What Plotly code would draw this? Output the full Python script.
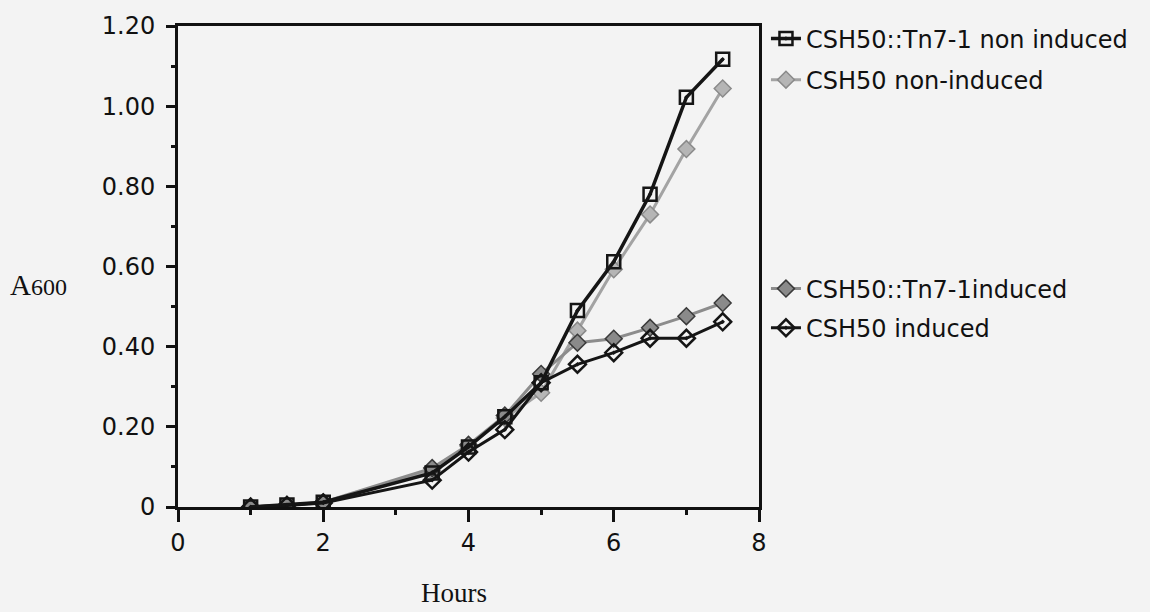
import plotly.graph_objects as go

hours = [1, 1.5, 2, 3.5, 4, 4.5, 5, 5.5, 6, 6.5, 7, 7.5]
tn7_non_induced = [0.0, 0.005, 0.012, 0.085, 0.15, 0.225, 0.31, 0.49, 0.612, 0.78, 1.022, 1.117]
csh50_non_induced = [0.0, 0.005, 0.010, 0.090, 0.152, 0.222, 0.285, 0.44, 0.593, 0.73, 0.893, 1.044]
tn7_induced = [0.0, 0.005, 0.012, 0.097, 0.155, 0.228, 0.332, 0.41, 0.42, 0.447, 0.476, 0.509]
csh50_induced = [0.0, 0.004, 0.010, 0.067, 0.137, 0.193, 0.31, 0.356, 0.385, 0.421, 0.421, 0.462]

names = ["CSH50::Tn7-1 non induced", "CSH50 non-induced", "CSH50::Tn7-1induced", "CSH50 induced"]
y_ticks = [0, 0.2, 0.4, 0.6, 0.8, 1.0, 1.2]
y_ticktext = ["0", "0.20", "0.40", "0.60", "0.80", "1.00", "1.20"]
x_ticks = [0, 2, 4, 6, 8]

BG = "#f3f3f3"
SANS = "DejaVu Sans"
SERIF = "Liberation Serif"
FS = 24

fig = go.Figure()

# gray series first so black lines sit on top
fig.add_trace(go.Scatter(
    x=hours, y=csh50_non_induced, name=names[1], mode="lines+markers",
    line=dict(color="#a3a3a3", width=3),
    marker=dict(symbol="diamond", size=13, color="#b5b5b5", line=dict(color="#8a8a8a", width=1.5)),
    legend="legend", legendrank=2, legendgroup="g2"))
fig.add_trace(go.Scatter(
    x=hours, y=tn7_induced, name=names[2], mode="lines+markers",
    line=dict(color="#8c8c8c", width=3),
    marker=dict(symbol="diamond", size=13, color="#8a8a8a", line=dict(color="#3a3a3a", width=1.5)),
    legend="legend2", legendrank=1, legendgroup="g3"))
fig.add_trace(go.Scatter(
    x=hours, y=csh50_induced, name=names[3], mode="lines+markers",
    line=dict(color="#151515", width=3),
    marker=dict(symbol="diamond-open-dot", size=13, color="#151515", line=dict(color="#151515", width=2.5)),
    legend="legend2", legendrank=2, legendgroup="g4"))
fig.add_trace(go.Scatter(
    x=hours, y=tn7_non_induced, name=names[0], mode="lines+markers",
    line=dict(color="#151515", width=3.5),
    marker=dict(symbol="square-open-dot", size=13, color="#151515", line=dict(color="#151515", width=2.5)),
    legend="legend", legendrank=1, legendgroup="g1"))

fig.update_layout(
    width=1150, height=612,
    margin=dict(l=178, r=391, t=23, b=105),
    paper_bgcolor=BG, plot_bgcolor=BG,
    font=dict(family=SANS, size=FS, color="#111"),
    showlegend=True,
    legend=dict(x=1.012, y=1.02, xanchor="left", yanchor="top", bgcolor="rgba(0,0,0,0)",
                font=dict(family=SANS, size=FS, color="#111"), tracegroupgap=7,
                traceorder="grouped", itemwidth=30),
    legend2=dict(x=1.012, y=0.5, xanchor="left", yanchor="top", bgcolor="rgba(0,0,0,0)",
                 font=dict(family=SANS, size=FS, color="#111"), tracegroupgap=5,
                 traceorder="grouped", itemwidth=30),
    xaxis=dict(range=[0, 8], tickvals=x_ticks, ticks="outside", ticklen=12, tickwidth=3,
               tickcolor="#111", showline=True, linewidth=3, linecolor="#111", mirror=True,
               showgrid=False, zeroline=False, tickfont=dict(family=SANS, size=FS, color="#111"),
               minor=dict(dtick=1, ticks="outside", ticklen=5, tickwidth=3, tickcolor="#111", showgrid=False)),
    yaxis=dict(range=[0, 1.2], tickvals=y_ticks, ticktext=y_ticktext, ticks="outside", ticklen=9,
               tickwidth=3, tickcolor="#111", showline=True, linewidth=3, linecolor="#111", mirror=True,
               showgrid=False, zeroline=False, tickfont=dict(family=SANS, size=FS, color="#111"),
               ticklabelstandoff=6,
               minor=dict(dtick=0.1, ticks="outside", ticklen=4, tickwidth=3, tickcolor="#111", showgrid=False)),
    annotations=[
        dict(text="Hours", xref="paper", yref="paper", x=(454 - 178) / 581, y=-0.178,
             xanchor="center", yanchor="middle", showarrow=False,
             font=dict(family=SERIF, size=27, color="#111")),
        dict(text="A<span style='font-size:24px'>600</span>", xref="paper", yref="paper",
             x=-0.292, y=(507 - 284) / 484, xanchor="left", yanchor="middle", showarrow=False,
             font=dict(family=SERIF, size=29, color="#111")),
    ],
)

fig.write_html(
    "out.html",
    config={"displayModeBar": False},
    post_script="document.body.style.margin='0';document.body.style.background='" + BG + "';",
)
